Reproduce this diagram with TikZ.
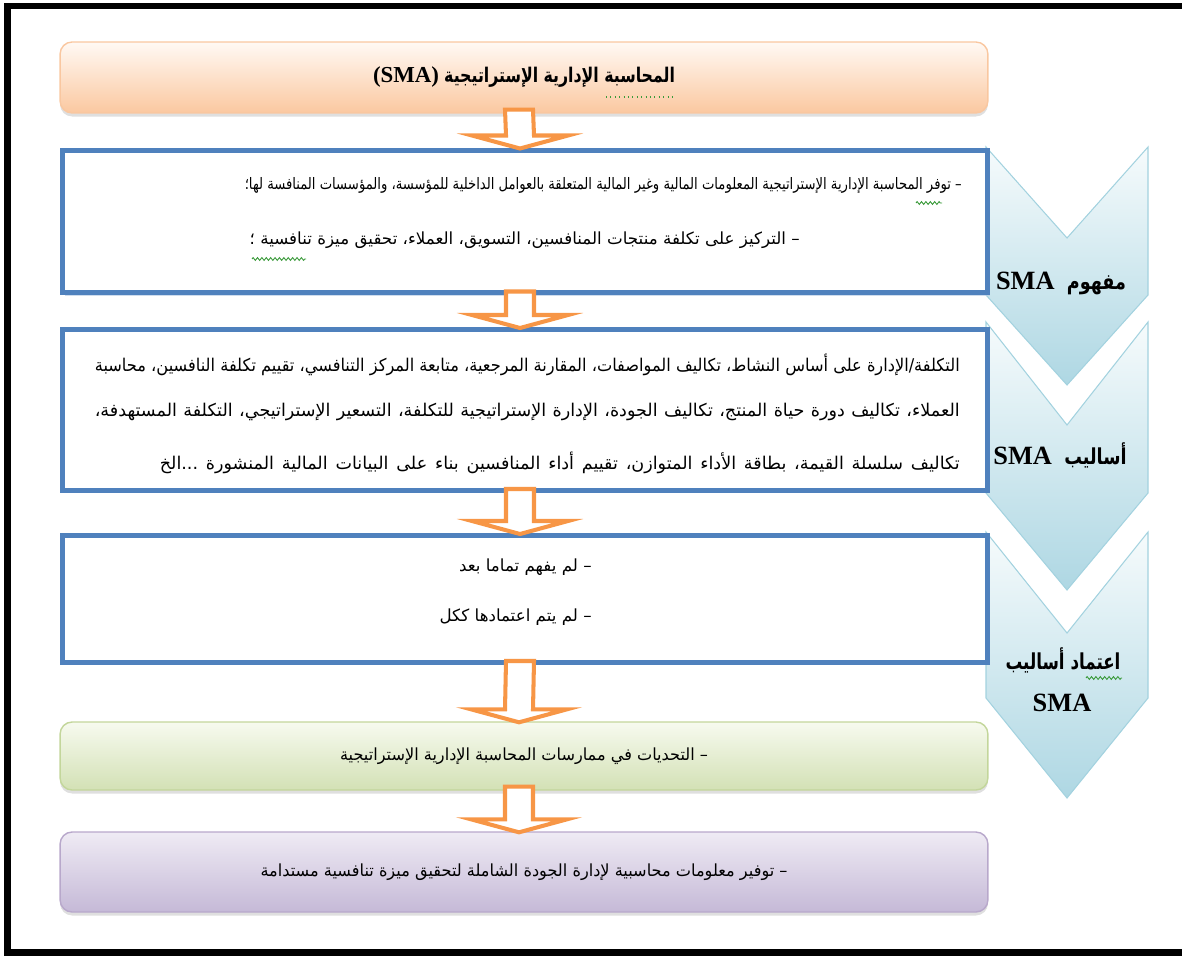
\documentclass[tikz,border=0pt]{standalone}
\usepackage{fontspec}
\usepackage{graphicx}
\setmainfont{Liberation Serif}
\newfontfamily\arabicfont[Script=Arabic]{DejaVu Sans}
\TeXXeTstate=1
\usetikzlibrary{calc,shadows,decorations.pathmorphing}

\definecolor{arrorange}{HTML}{F79646}
\definecolor{boxblue}{HTML}{4F81BD}
\definecolor{boxshade}{HTML}{B9CDE5}
\definecolor{peachtop}{HTML}{FFF9F4}
\definecolor{peachbot}{HTML}{FBC8A0}
\definecolor{peachline}{HTML}{F9C7A0}
\definecolor{greentop}{HTML}{F7FAEF}
\definecolor{greenbot}{HTML}{D3E1B5}
\definecolor{greenline}{HTML}{C3D69B}
\definecolor{purpletop}{HTML}{EFEBF4}
\definecolor{purplebot}{HTML}{C5B9D7}
\definecolor{purpleline}{HTML}{B8A8CB}
\definecolor{chevtop}{HTML}{F6FBFC}
\definecolor{chevbot}{HTML}{AED7E3}
\definecolor{chevline}{HTML}{A3D2DF}
\definecolor{squiggle}{HTML}{3A9A3A}

\newcommand\fs[1]{\fontsize{#1}{#1}\selectfont}
% squeeze a line horizontally to a given width, keeping its height
\newcommand\fitw[2]{\resizebox{#1}{\height}{#2}}

\tikzset{
  softbox/.style={rounded corners=0.24cm, line width=0.8pt, minimum width=18.56cm,
    drop shadow={shadow xshift=0pt, shadow yshift=-2pt, opacity=0.25}},
  peachbox/.style={softbox, draw=peachline, top color=peachtop, bottom color=peachbot},
  greenbox/.style={softbox, draw=greenline, top color=greentop, bottom color=greenbot},
  purplebox/.style={softbox, draw=purpleline, top color=purpletop, bottom color=purplebot},
  bluebox/.style={draw=boxblue, line width=2.85pt, fill=white, minimum width=18.51cm,
    drop shadow={shadow xshift=1.5pt, shadow yshift=-1.5pt, fill=boxshade, opacity=0.7}},
  chevron/.style={draw=chevline, line width=0.6pt, top color=chevtop, bottom color=chevbot},
  flowarr/.style={draw=arrorange, line width=2.3pt, fill=white, line join=miter},
  line/.style={inner sep=0pt},
  chevlabel/.style={inner sep=0pt, font=\fs{15}\bfseries},
  proof/.style={draw=squiggle, line width=0.5pt},
  wavy/.style={proof, decorate, decoration={zigzag, amplitude=0.8pt, segment length=2.5pt}},
}

% hollow block arrow from the bottom of one box to the top of the next
\newcommand\flowarrow[2]{%
  \draw[flowarr]
    ($(#1.south)+(-19,-4)$) -- ($(#1.south)+(9,-4)$) --
    ($(#2.north)+(9,-12)$) -- ($(#2.north)+(43,-12)$) --
    ($(#2.north)+(-5,1)$) --
    ($(#2.north)+(-53,-12)$) -- ($(#2.north)+(-19,-12)$) -- cycle;}

\begin{document}
\begin{tikzpicture}[x=0.02cm, y=-0.02cm]
\useasboundingbox (0,0) rectangle (1182,956);

% outer frame
\draw[line width=3.7pt] (1200,6) -- (7.5,6) -- (7.5,952.5) -- (1200,952.5);

% side chevrons
\path[chevron] (986,147) -- (1067,238) -- (1148,147) -- (1148,295) -- (1067,385) -- (986,295) -- cycle;
\path[chevron] (986,322) -- (1067,425) -- (1148,322) -- (1148,493) -- (1067,590) -- (986,493) -- cycle;
\path[chevron] (986,532) -- (1067,633) -- (1148,532) -- (1148,698) -- (1067,798) -- (986,698) -- cycle;

% flow boxes
\node[peachbox, minimum height=1.42cm] (sma) at (524,77.5)
  {\fs{13}\bfseries (SMA)\hspace{3pt}\scalebox{0.78}[1]{\arabicfont\bfseries\fs{11.5}\beginR المحاسبة الإدارية الإستراتيجية\endR}};
\node[bluebox, minimum height=2.86cm] (concept) at (525,221.5) {};
\node[bluebox, minimum height=3.22cm] (methods) at (525,410) {};
\node[bluebox, minimum height=2.54cm] (adopt) at (525,599) {};
\node[greenbox, minimum height=1.36cm] (challenge) at (524,756)
  {\fitw{7.36cm}{\arabicfont\fs{9.5}\beginR – التحديات في ممارسات المحاسبة الإدارية الإستراتيجية\endR}};
\node[purplebox, minimum height=1.6cm] (tqm) at (524,872)
  {\fitw{10.54cm}{\arabicfont\fs{9.5}\beginR – توفير معلومات محاسبية لإدارة الجودة الشاملة لتحقيق ميزة تنافسية مستدامة\endR}};

% box texts
\node[line, anchor=east] (concept1) at (962,185)
  {\fitw{14.34cm}{\arabicfont\fs{9}\beginR – توفر المحاسبة الإدارية الإستراتيجية المعلومات المالية وغير المالية المتعلقة بالعوامل الداخلية للمؤسسة، والمؤسسات المنافسة لها؛\endR}};
\node[line, anchor=east] (concept2) at (800,240)
  {\fitw{11cm}{\arabicfont\fs{9.5}\beginR – التركيز على تكلفة منتجات المنافسين، التسويق، العملاء، تحقيق ميزة تنافسية ؛\endR}};

\node[line, anchor=east] (methods1) at (960,365)
  {\fitw{17.3cm}{\arabicfont\fs{10}\beginR التكلفة/الإدارة على أساس النشاط، تكاليف المواصفات، المقارنة المرجعية، متابعة المركز التنافسي، تقييم تكلفة النافسين، محاسبة\endR}};
\node[line, anchor=east] (methods2) at (960,412)
  {\hbox to 17.3cm{\arabicfont\fs{10}\beginR العملاء، تكاليف دورة حياة المنتج، تكاليف الجودة، الإدارة الإستراتيجية للتكلفة، التسعير الإستراتيجي، التكلفة المستهدفة،\endR}};
\node[line, anchor=east] (methods3) at (960,463)
  {\hbox to 16cm{\arabicfont\fs{10}\beginR تكاليف سلسلة القيمة، بطاقة الأداء المتوازن، تقييم أداء المنافسين بناء على البيانات المالية المنشورة ...الخ\endR}};

\node[line, anchor=east] (adopt1) at (592,567) {\arabicfont\fs{9.5}\beginR – لم يفهم تماما بعد\endR};
\node[line, anchor=east] (adopt2) at (592,617) {\arabicfont\fs{9.5}\beginR – لم يتم اعتمادها ككل\endR};

% arrows between the boxes
\flowarrow{sma}{concept}
\flowarrow{concept}{methods}
\flowarrow{methods}{adopt}
\flowarrow{adopt}{challenge}
\flowarrow{challenge}{tqm}

% chevron labels
\node[chevlabel] (c1) at (1061,283) {SMA\hspace{7pt}\scalebox{0.8}[1]{\arabicfont\bfseries\fs{12.5}\beginR مفهوم\endR}};
\node[chevlabel] (c2) at (1060,455) {SMA\hspace{7pt}\scalebox{0.8}[1]{\arabicfont\bfseries\fs{12.5}\beginR أساليب\endR}};
\node[chevlabel] (c3a) at (1063,660) {\scalebox{0.76}[1]{\arabicfont\bfseries\fs{12.5}\beginR اعتماد أساليب\endR}};
\node[chevlabel] (c3b) at (1062,703) {SMA};

% proofing marks under a few words
\draw[proof, dotted, line width=0.8pt] (606,97) -- (674,97);
\draw[wavy] (916,203) -- (942,203);
\draw[wavy] (252,259) -- (306,259);
\draw[wavy] (1086,678) -- (1122,678);
\end{tikzpicture}
\end{document}
